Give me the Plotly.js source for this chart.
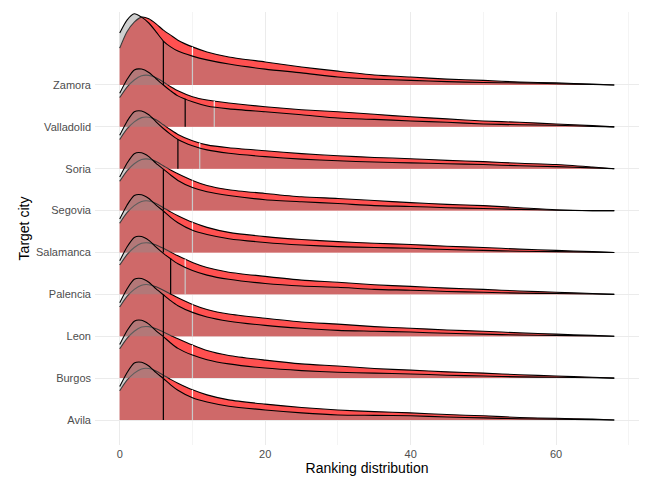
<!DOCTYPE html>
<html><head><meta charset="utf-8">
<script src="https://cdn.plot.ly/plotly-3.0.1.min.js"></script>
<style>html,body{margin:0;padding:0;background:#fff}</style>
</head><body><div id="chart" style="width:654px;height:477px"></div>
<script>
// categories, bottom to top
const cities = ["Avila","Burgos","Leon","Palencia","Salamanca","Segovia","Soria","Valladolid","Zamora"];
// ranking positions at which the densities were read
const xGrid = [0,1,2,3,4,5,6,7,8,10,12,15,20,25,30,35,40,45,50,55,60,65,68];

// scaled density heights (1 = one row) – red series (heavier tail)
const avilaRed      = [0.70,0.95,1.12,1.22,1.23,1.17,1.07,0.97,0.88,0.72,0.60,0.48,0.38,0.30,0.24,0.20,0.17,0.13,0.10,0.06,0.04,0.02,0];
const burgosRed     = [0.70,0.95,1.12,1.22,1.23,1.18,1.10,1.02,0.94,0.79,0.66,0.54,0.43,0.34,0.29,0.23,0.19,0.15,0.12,0.08,0.05,0.02,0];
const leonRed       = [0.70,0.95,1.12,1.22,1.23,1.18,1.10,1.01,0.92,0.76,0.64,0.53,0.43,0.34,0.29,0.23,0.19,0.15,0.12,0.08,0.05,0.02,0];
const palenciaRed   = [0.70,0.95,1.12,1.22,1.23,1.18,1.10,1.01,0.92,0.76,0.64,0.53,0.43,0.34,0.29,0.23,0.19,0.15,0.12,0.08,0.05,0.02,0];
const salamancaRed  = [0.70,0.95,1.12,1.22,1.23,1.17,1.07,0.97,0.88,0.72,0.60,0.48,0.38,0.31,0.26,0.22,0.19,0.15,0.12,0.08,0.05,0.02,0];
const segoviaRed    = [0.70,0.95,1.12,1.22,1.23,1.17,1.07,0.97,0.88,0.72,0.60,0.50,0.41,0.33,0.29,0.24,0.19,0.15,0.12,0.07,0.02,0,0];
const soriaRed      = [0.70,0.95,1.12,1.22,1.23,1.17,1.05,0.93,0.82,0.67,0.57,0.50,0.43,0.36,0.31,0.27,0.24,0.20,0.17,0.13,0.10,0.04,0];
const valladolidRed = [0.70,0.95,1.12,1.22,1.23,1.17,1.07,0.96,0.86,0.72,0.64,0.57,0.48,0.41,0.36,0.30,0.24,0.19,0.14,0.11,0.07,0.03,0];
const zamoraRed     = [0.88,1.27,1.50,1.62,1.58,1.46,1.31,1.19,1.07,0.91,0.79,0.67,0.55,0.43,0.33,0.24,0.19,0.14,0.11,0.07,0.05,0.02,0];

// grey series (higher peak, lighter tail)
const avilaGrey      = [0.80,1.13,1.36,1.38,1.29,1.13,0.99,0.84,0.71,0.53,0.43,0.33,0.24,0.17,0.12,0.11,0.10,0.07,0.05,0.03,0.02,0.01,0];
const burgosGrey     = [0.80,1.13,1.36,1.38,1.29,1.13,0.99,0.84,0.71,0.55,0.44,0.34,0.24,0.18,0.14,0.12,0.10,0.07,0.05,0.03,0.02,0.01,0];
const leonGrey       = [0.80,1.13,1.36,1.38,1.29,1.13,0.99,0.85,0.73,0.57,0.46,0.36,0.26,0.19,0.14,0.12,0.10,0.07,0.05,0.03,0.02,0.01,0];
const palenciaGrey   = [0.80,1.13,1.36,1.38,1.29,1.13,0.98,0.85,0.73,0.57,0.46,0.36,0.26,0.20,0.17,0.12,0.10,0.07,0.05,0.03,0.02,0.01,0];
const salamancaGrey  = [0.80,1.13,1.36,1.38,1.29,1.13,0.99,0.84,0.71,0.53,0.43,0.33,0.24,0.18,0.14,0.12,0.10,0.07,0.05,0.03,0.02,0.01,0];
const segoviaGrey    = [0.80,1.13,1.36,1.38,1.29,1.13,0.99,0.85,0.72,0.55,0.45,0.36,0.26,0.21,0.17,0.12,0.10,0.07,0.05,0.03,0.01,0,0];
const soriaGrey      = [0.80,1.13,1.36,1.38,1.29,1.12,0.96,0.82,0.70,0.55,0.45,0.37,0.29,0.23,0.19,0.16,0.14,0.12,0.10,0.07,0.05,0.02,0];
const valladolidGrey = [0.80,1.13,1.36,1.38,1.30,1.15,1.00,0.86,0.74,0.60,0.50,0.43,0.36,0.29,0.21,0.18,0.14,0.11,0.07,0.05,0.04,0.01,0];
const zamoraGrey     = [1.24,1.55,1.70,1.62,1.48,1.27,1.05,0.91,0.81,0.69,0.60,0.50,0.38,0.29,0.19,0.14,0.11,0.08,0.06,0.05,0.03,0.01,0];

// marker lines per city (bottom to top): black = grey-series line, light = red-series line
const greyMarker = [6,6,6,7,6,6,8,9,6];
const redMarker  = [10,10,10,9,10,10,11,13,10];

const redSeries  = [avilaRed,burgosRed,leonRed,palenciaRed,salamancaRed,segoviaRed,soriaRed,valladolidRed,zamoraRed];
const greySeries = [avilaGrey,burgosGrey,leonGrey,palenciaGrey,salamancaGrey,segoviaGrey,soriaGrey,valladolidGrey,zamoraGrey];

function interp(xs, ys, x){
  for(let k=0;k<xs.length-1;k++){
    if(x>=xs[k] && x<=xs[k+1]){
      const t=(x-xs[k])/(xs[k+1]-xs[k]);
      return ys[k]+t*(ys[k+1]-ys[k]);
    }
  }
  return 0;
}

const traces=[];
function ridge(base, vals, fillcolor){
  traces.push({x:xGrid, y:xGrid.map(()=>base), mode:'lines', line:{width:0,color:'rgba(0,0,0,0)'}, hoverinfo:'skip', showlegend:false});
  traces.push({x:xGrid, y:vals.map(v=>base+v), mode:'lines', fill:'tonexty', fillcolor:fillcolor,
    line:{color:'#000',width:1.1,shape:'spline',smoothing:0.7}, hoverinfo:'skip', showlegend:false});
}
function vline(base, xv, series, color){
  traces.push({x:[xv,xv], y:[base, base+interp(xGrid, series, xv)], mode:'lines',
    line:{color:color,width:1.2}, hoverinfo:'skip', showlegend:false});
}
// layer 1: red densities (back to front: top row first)
for(let i=cities.length-1;i>=0;i--){
  ridge(i, redSeries[i], 'rgb(255,80,80)');
  vline(i, redMarker[i], redSeries[i], '#f4f4f4');
}
// layer 2: translucent grey densities on top
for(let i=cities.length-1;i>=0;i--){
  ridge(i, greySeries[i], 'rgba(140,140,140,0.42)');
  vline(i, greyMarker[i], greySeries[i], '#000');
}

const layout={
  width:654, height:477,
  margin:{l:95,r:15,t:12,b:32},
  paper_bgcolor:'#fff', plot_bgcolor:'#fff',
  font:{family:'Liberation Sans, Arial, sans-serif'},
  xaxis:{range:[-3.4,71.4], tickvals:[0,20,40,60], ticks:'', showline:false, zeroline:false,
    showgrid:true, gridcolor:'#ebebeb', gridwidth:1,
    minor:{tickvals:[10,30,50,70], showgrid:true, gridcolor:'#f4f4f4', gridwidth:1},
    tickfont:{size:11,color:'#4d4d4d'}, ticklabelstandoff:1,
    title:{text:'Ranking distribution', font:{size:14,color:'#000'}, standoff:1}},
  yaxis:{range:[-0.597,9.743], tickvals:cities.map((c,i)=>i), ticktext:cities, ticks:'', showline:false, zeroline:false,
    showgrid:true, gridcolor:'#ebebeb', gridwidth:1, ticklabelstandoff:3,
    tickfont:{size:11,color:'#4d4d4d'},
    title:{text:'Target city', font:{size:14,color:'#000'}, standoff:3}},
  showlegend:false
};
Plotly.newPlot('chart', traces, layout, {staticPlot:true});
</script></body></html>
